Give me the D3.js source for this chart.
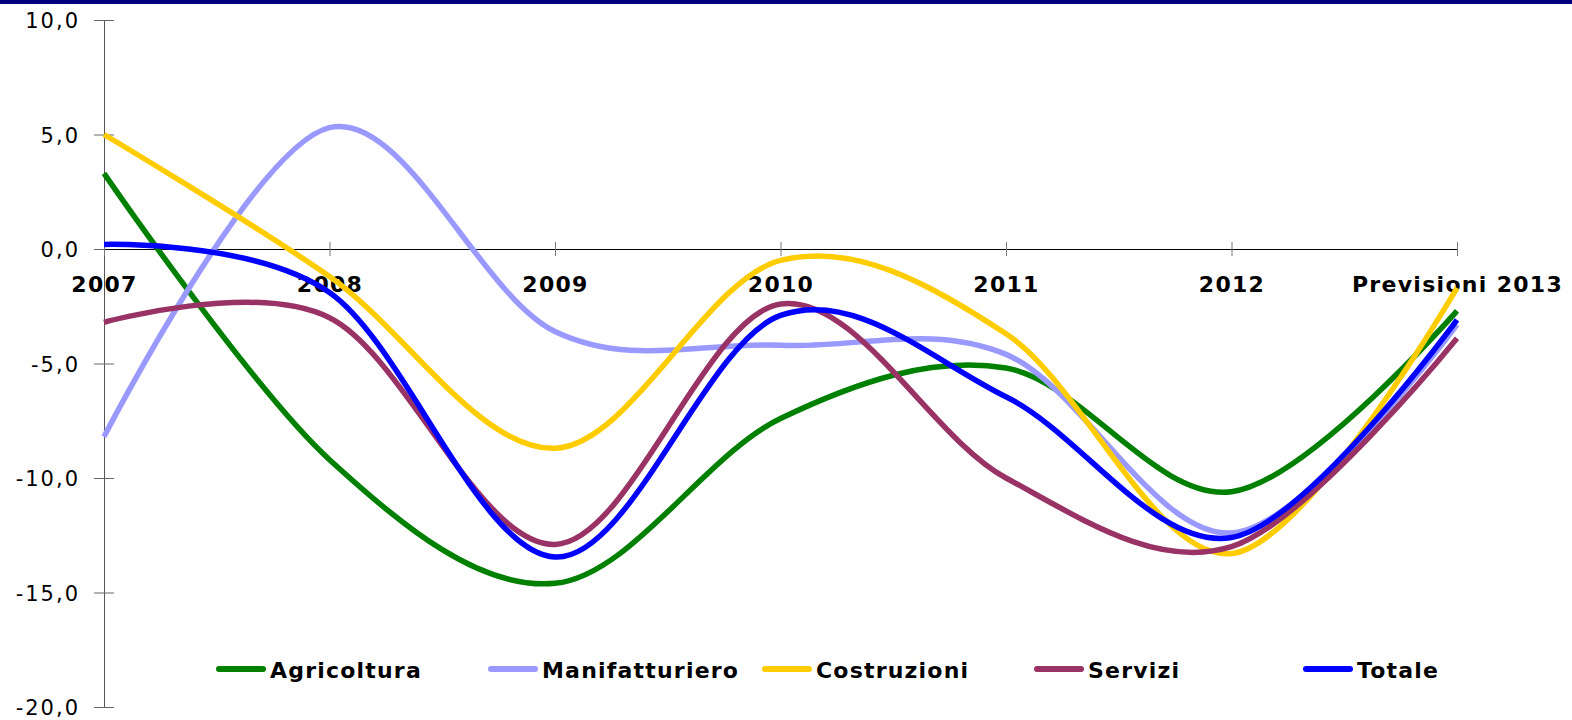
<!DOCTYPE html>
<meta charset="utf-8">
<style>
	body { margin: 0; background: #fff; }
	.series { fill: none; stroke-width: 5.5px; stroke-linejoin: round; }
	.ytick text { font-family: "DejaVu Sans", sans-serif; font-size: 21px; letter-spacing: 2px; fill: #000; }
	.xtick text { font-family: "DejaVu Sans", sans-serif; font-weight: bold; font-size: 22px; letter-spacing: 1.3px; fill: #000; }
	.legend text { font-family: "DejaVu Sans", sans-serif; font-weight: bold; font-size: 22px; letter-spacing: 1.2px; fill: #000; }
</style>
<body>
<script src="https://cdnjs.cloudflare.com/ajax/libs/d3/7.8.5/d3.min.js"></script>
<script>

// Data
var years = ["2007", "2008", "2009", "2010", "2011", "2012", "Previsioni 2013"];
var agricoltura    = [3.3, -9.2, -14.6, -7.4, -5.2, -10.6, -2.7];
var manifatturiero = [-8.2, 5.3, -3.6, -4.2, -4.6, -12.4, -3.3];
var costruzioni    = [5.0, -1.2, -8.7, -0.5, -3.7, -13.3, -1.7];
var servizi        = [-3.2, -3.0, -12.9, -2.4, -10.0, -13.0, -3.9];
var totale         = [0.2, -1.9, -13.45, -2.9, -6.45, -12.6, -3.1];
var yTicks = [-20, -15, -10, -5, 0, 5, 10];

var seriesNames  = ["Agricoltura", "Manifatturiero", "Costruzioni", "Servizi", "Totale"];
var seriesValues = [agricoltura, manifatturiero, costruzioni, servizi, totale];
var seriesColors = ["#008000", "#9999FF", "#FFCC00", "#993366", "#0000FF"];

var W = 1572, H = 720;
var plotLeft = 104, plotRight = 1457, plotTop = 20, plotBottom = 707;

var svg = d3.select("body").append("svg")
	.attr("width", W)
	.attr("height", H);

// top band (title cut off)
svg.append("rect")
	.attr("x", 0).attr("y", 0)
	.attr("width", W).attr("height", 4)
	.attr("fill", "#000080");

var x = d3.scalePoint().domain(years).range([plotLeft, plotRight]);
var y = d3.scaleLinear().domain([-20, 10]).range([plotBottom, plotTop]);

var itFormat = d3.formatLocale({decimal: ",", thousands: ".", grouping: [3], currency: ["", "€"], minus: "-"}).format(".1f");

// Y axis
var yAxis = svg.append("g")
	.attr("transform", "translate(" + plotLeft + ",0)")
	.call(d3.axisLeft(y).tickValues(yTicks).tickFormat(itFormat).tickSizeInner(10).tickSizeOuter(0));
yAxis.select(".domain").attr("stroke", "#555");
yAxis.selectAll(".tick").attr("class", "tick ytick");
yAxis.selectAll(".tick line").attr("x2", 10).attr("x1", -10).attr("stroke", "#666");
yAxis.selectAll(".tick text").attr("x", -24).attr("dy", "0.36em");

// X axis at zero
var xAxis = svg.append("g")
	.attr("transform", "translate(0," + y(0) + ")")
	.call(d3.axisBottom(x).tickSizeOuter(0).tickSizeInner(7));
xAxis.select(".domain").attr("stroke", "#000");
xAxis.selectAll(".tick").attr("class", "tick xtick");
xAxis.selectAll(".tick line").attr("y1", -7).attr("y2", 7).attr("stroke", "#777");
xAxis.selectAll(".tick text").attr("y", 43).attr("dy", 0);

// Lines
var line = d3.line()
	.x(function(d, i) { return x(years[i]); })
	.y(function(d) { return y(d); })
	.curve(d3.curveCardinal.tension(0));

seriesValues.forEach(function(vals, i) {
	svg.append("path")
		.datum(vals)
		.attr("class", "series")
		.attr("stroke", seriesColors[i])
		.attr("d", line);
});

// Legend
var legendX = [216, 488, 762, 1034, 1303];
var legend = svg.append("g").attr("class", "legend");
seriesNames.forEach(function(name, i) {
	var g = legend.append("g").attr("transform", "translate(" + legendX[i] + ",669)");
	g.append("line")
		.attr("x1", 3).attr("x2", 47)
		.attr("stroke", seriesColors[i])
		.attr("stroke-width", 6)
		.attr("stroke-linecap", "round");
	g.append("text")
		.attr("x", 54).attr("y", 9)
		.text(name);
});

</script>
</body>
